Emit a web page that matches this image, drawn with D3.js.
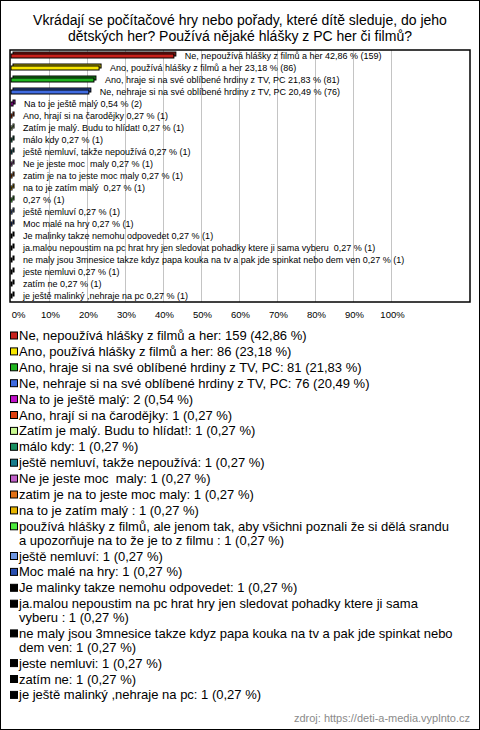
<!DOCTYPE html>
<html><head><meta charset="utf-8">
<script src="https://cdn.jsdelivr.net/npm/d3@7"></script>
<style>
html,body{margin:0;padding:0;background:#fff;}
svg{display:block;}
text{font-family:"Liberation Sans",Arial,sans-serif;white-space:pre;}
</style></head>
<body>
<svg id="chart" width="480" height="730"></svg>
<script>
const titleLines = [
  "Vkrádají se počítačové hry nebo pořady, které dítě sleduje, do jeho",
  "dětských her? Používá nějaké hlášky z PC her či filmů?"
];
const categories = [
  "Ne, nepoužívá hlášky z filmů a her",
  "Ano, používá hlášky z filmů a her",
  "Ano, hraje si na své oblíbené hrdiny z TV, PC",
  "Ne, nehraje si na své oblíbené hrdiny z TV, PC",
  "Na to je ještě malý",
  "Ano, hrají si na čarodějky",
  "Zatím je malý. Budu to hlídat!",
  "málo kdy",
  "ještě nemluví, takže nepoužívá",
  "Ne je jeste moc  maly",
  "zatim je na to jeste moc maly",
  "na to je zatím malý ",
  "používá hlášky z filmů, ale jenom tak, aby všichni poznali že si dělá srandu a upozorňuje na to že je to z filmu ",
  "ještě nemluví",
  "Moc malé na hry",
  "Je malinky takze nemohu odpovedet",
  "ja.malou nepoustim na pc hrat hry jen sledovat pohadky ktere ji sama vyberu ",
  "ne maly jsou 3mnesice takze kdyz papa kouka na tv a pak jde spinkat nebo dem ven",
  "jeste nemluvi",
  "zatím ne",
  "je ještě malinký ,nehraje na pc"
];
// bar labels (the multi-line answer is shown without its text next to the bar)
const barNames = categories.map((c, i) => i === 12 ? "" : c);
const counts = [159, 86, 81, 76, 2, 1, 1, 1, 1, 1, 1, 1, 1, 1, 1, 1, 1, 1, 1, 1, 1];
const percents = [42.86, 23.18, 21.83, 20.49, 0.54, 0.27, 0.27, 0.27, 0.27, 0.27, 0.27, 0.27, 0.27, 0.27, 0.27, 0.27, 0.27, 0.27, 0.27, 0.27, 0.27];
const colors = ["#c8201a", "#f7e600", "#1fb41f", "#3f6be0", "#c010c8", "#e0400f", "#c8f890", "#188f5f",
  "#1a7d8c", "#c060c8", "#e07015", "#e6b400", "#4cea3c", "#6e96e0", "#2a4fb0",
  "#000000", "#000000", "#000000", "#000000", "#000000", "#000000"];
const tickValues = [0, 10, 20, 30, 40, 50, 60, 70, 80, 90, 100];
const source = "zdroj: https://deti-a-media.vyplnto.cz";

const fmt = v => v.toFixed(2).replace(".", ",");
const svg = d3.select("#chart");

// outer border
svg.append("rect").attr("x", 0.5).attr("y", 0.5).attr("width", 479).attr("height", 729)
  .attr("fill", "#fff").attr("stroke", "#000").attr("stroke-width", 1);

// title
svg.append("g").selectAll("text").data(titleLines).join("text")
  .attr("x", 240).attr("y", (d, i) => 25 + i * 16)
  .attr("text-anchor", "middle").attr("font-size", 14).attr("fill", "#000")
  .text(d => d);

// plot geometry
const frame = {x0: 10, x1: 470, y0: 50, y1: 302};
const x = d3.scaleLinear().domain([0, 100]).range([11, 391]);
const y = d3.scaleBand().domain(d3.range(categories.length)).range([frame.y0, frame.y1]).padding(0);

// gridlines
svg.append("g").selectAll("line").data(tickValues.filter(t => t > 0)).join("line")
  .attr("x1", d => x(d) + 0.5).attr("x2", d => x(d) + 0.5)
  .attr("y1", frame.y0).attr("y2", frame.y1)
  .attr("stroke", "#c4c4c4").attr("stroke-width", 1);

// bars with 3D look
const barH = 4, dep = 2;
const bars = svg.append("g").selectAll("g").data(d3.range(categories.length)).join("g");
bars.append("rect")
  .attr("x", x(0) + dep).attr("y", i => y(i) + y.bandwidth() / 2 - barH / 2 - dep)
  .attr("width", i => Math.max(x(percents[i]) - x(0), 1)).attr("height", barH)
  .attr("fill", i => d3.color(colors[i]).darker(0.8)).attr("stroke", "#000").attr("stroke-width", 1);
bars.append("rect")
  .attr("x", x(0)).attr("y", i => y(i) + y.bandwidth() / 2 - barH / 2)
  .attr("width", i => Math.max(x(percents[i]) - x(0), 1)).attr("height", barH)
  .attr("fill", i => colors[i]).attr("stroke", "#000").attr("stroke-width", 1);
bars.append("text")
  .attr("x", i => x(percents[i]) + dep + 9)
  .attr("y", i => y(i) + y.bandwidth() / 2 + 3)
  .attr("font-size", 9).attr("fill", "#000")
  .text(i => (barNames[i] ? barNames[i] + " " : "") + fmt(percents[i]) + " % (" + counts[i] + ")");

// frame
svg.append("rect").attr("x", frame.x0).attr("y", frame.y0)
  .attr("width", frame.x1 - frame.x0).attr("height", frame.y1 - frame.y0)
  .attr("fill", "none").attr("stroke", "#000").attr("stroke-width", 1.5);

// x axis tick labels
const axis = d3.axisBottom(x).tickValues(tickValues).tickFormat(d => d + "%").tickSize(0).tickPadding(0);
const ax = svg.append("g").attr("transform", `translate(0,${frame.y1 + 9})`).call(axis);
ax.select(".domain").remove();
ax.selectAll("text").attr("font-size", 9.5).attr("font-family", "Liberation Sans, Arial, sans-serif")
  .attr("fill", "#000")
  .attr("dx", d => d === 0 ? 7 : 1);

// legend with wrapping
const legendFont = 13, wrapW = 437;
const measure = svg.append("text").attr("font-size", legendFont).attr("visibility", "hidden");
function wrap(str) {
  const words = str.split(" ");
  const lines = [];
  let cur = "";
  words.forEach((w, k) => {
    const test = k === 0 ? w : cur + " " + w;
    measure.text(test);
    if (measure.node().getComputedTextLength() > wrapW && cur !== "") {
      lines.push(cur); cur = w;
    } else cur = test;
  });
  lines.push(cur);
  return lines;
}
const legendItems = categories.map((c, i) => ({
  i, lines: wrap(c + ": " + counts[i] + " (" + fmt(percents[i]) + " %)")
}));
measure.remove();
let cy = 335.5;
const lg = svg.append("g");
legendItems.forEach(item => {
  lg.append("rect").attr("x", 10.5).attr("y", cy - 3.5).attr("width", 7).attr("height", 7)
    .attr("fill", colors[item.i]).attr("stroke", "#000").attr("stroke-width", 1);
  const t = lg.append("text").attr("x", 19).attr("y", cy + 4.5).attr("font-size", legendFont).attr("fill", "#000");
  item.lines.forEach((ln, k) => {
    t.append("tspan").attr("x", 19).attr("dy", k === 0 ? 0 : 13.8).text(ln);
  });
  cy += 15.9 + 13.8 * (item.lines.length - 1);
});

// source
svg.append("text").attr("x", 470).attr("y", 722).attr("text-anchor", "end")
  .attr("font-size", 11).attr("fill", "#8a8a8a").text(source);
</script>
</body></html>
